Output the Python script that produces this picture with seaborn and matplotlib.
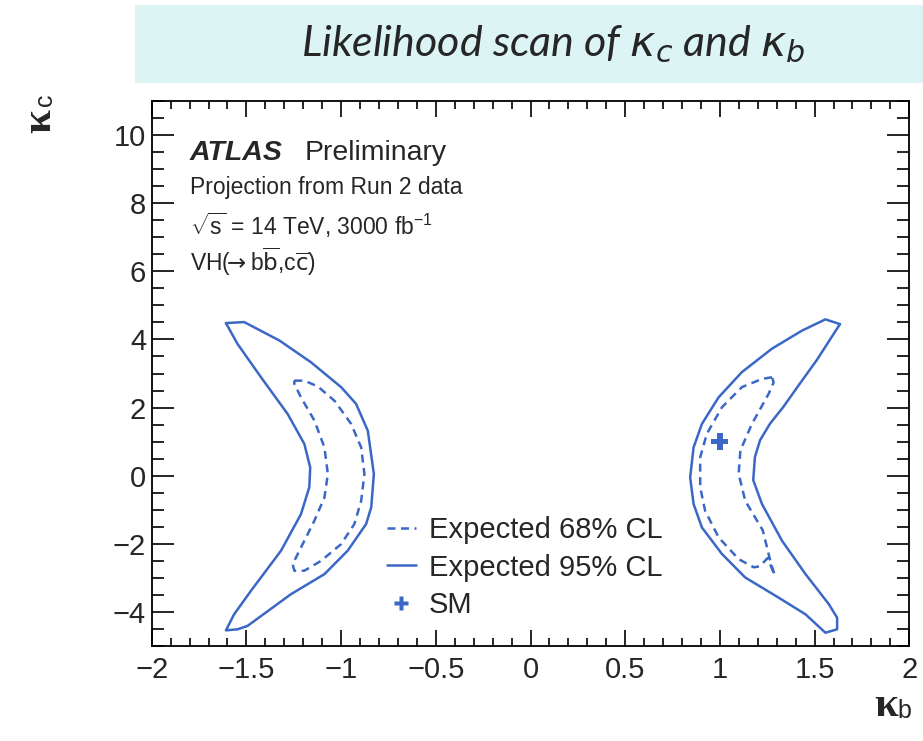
import numpy as np
import pandas as pd
import matplotlib
matplotlib.use("Agg")
import matplotlib.pyplot as plt
from matplotlib.lines import Line2D
from matplotlib.patches import Rectangle
from matplotlib.ticker import MultipleLocator
import seaborn as sns

# ---------------- data ----------------
left95_x = [-1.608, -1.512, -1.326, -1.159, -1.000, -0.921, -0.859, -0.827, -0.841, -0.868,
            -0.965, -1.088, -1.265, -1.494, -1.547, -1.608, -1.565, -1.476, -1.317, -1.212,
            -1.168, -1.163, -1.194, -1.282, -1.423, -1.547, -1.608]
left95_y = [4.48, 4.51, 3.97, 3.33, 2.60, 2.11, 1.32, 0.05, -0.93, -1.42,
            -2.20, -2.89, -3.48, -4.41, -4.51, -4.54, -4.07, -3.38, -2.20, -1.13,
            -0.34, 0.24, 0.93, 1.81, 2.89, 3.87, 4.48]

left68_x = [-1.247, -1.194, -1.123, -1.035, -0.947, -0.894, -0.877, -0.894, -0.930, -1.000,
            -1.106, -1.194, -1.247, -1.256, -1.212, -1.141, -1.088, -1.070, -1.088, -1.141,
            -1.212, -1.247, -1.247]
left68_y = [2.79, 2.79, 2.62, 2.20, 1.52, 0.83, 0.05, -0.74, -1.42, -2.01,
            -2.50, -2.79, -2.79, -2.60, -2.11, -1.32, -0.64, 0.05, 0.83, 1.62,
            2.30, 2.70, 2.79]

right95_x = [1.634, 1.557, 1.434, 1.275, 1.116, 0.993, 0.905, 0.861, 0.843, 0.861,
             0.905, 1.011, 1.134, 1.310, 1.452, 1.557, 1.619, 1.619, 1.575, 1.452,
             1.328, 1.222, 1.176, 1.185, 1.212, 1.265, 1.335, 1.423, 1.511, 1.634]
right95_y = [4.45, 4.59, 4.26, 3.73, 3.04, 2.30, 1.52, 0.83, -0.05, -0.83,
             -1.52, -2.30, -2.99, -3.58, -4.07, -4.61, -4.51, -4.17, -3.77, -2.89,
             -1.91, -0.83, -0.13, 0.55, 1.04, 1.53, 2.02, 2.71, 3.39, 4.45]

right68_x = [1.275, 1.222, 1.116, 1.011, 0.931, 0.896, 0.896, 0.922, 0.993, 1.099,
             1.179, 1.210, 1.252, 1.289, 1.268, 1.226, 1.134, 1.099, 1.108, 1.169,
             1.257, 1.284, 1.275]
right68_y = [2.89, 2.84, 2.60, 2.01, 1.23, 0.54, -0.34, -1.03, -1.81, -2.45,
             -2.69, -2.66, -2.42, -2.92, -2.54, -1.60, -0.74, 0.05, 0.74, 1.52,
             2.40, 2.74, 2.89]

sm_x = [1.0]
sm_y = [1.0]

x_ticks = [-2, -1.5, -1, -0.5, 0, 0.5, 1, 1.5, 2]
x_tick_labels = ["\u22122", "\u22121.5", "\u22121", "\u22120.5", "0", "0.5", "1", "1.5", "2"]
y_ticks = [-4, -2, 0, 2, 4, 6, 8, 10]
y_tick_labels = ["\u22124", "\u22122", "0", "2", "4", "6", "8", "10"]

legend_labels = ["Expected 68% CL", "Expected 95% CL", "SM"]

# ---------------- style ----------------
sns.set_theme(style="ticks")
plt.rcParams["font.family"] = ["Liberation Sans", "DejaVu Sans"]
plt.rcParams["mathtext.fontset"] = "custom"
plt.rcParams["mathtext.rm"] = "Liberation Sans"
plt.rcParams["mathtext.it"] = "Liberation Sans:italic"
plt.rcParams["mathtext.bf"] = "Liberation Sans:bold"
plt.rcParams["axes.linewidth"] = 1.3

BLUE = "#3b68c6"
DASH = (0, (3.2, 2.2))
LW = 1.8

W, H = 923, 741
fig = plt.figure(figsize=(W / 100, H / 100), dpi=100)
fig.patch.set_facecolor("white")

# title box
fig.patches.append(Rectangle((135 / W, 1 - 83 / H), 1 - 135 / W, 78 / H,
                             transform=fig.transFigure, facecolor="#dcf4f4",
                             edgecolor="none", zorder=0))
fig.text(553 / W, 1 - 44 / H, r"Likelihood scan of $\kappa_c$ and $\kappa_b$",
         ha="center", va="center", fontsize=31, style="italic",
         family=["Lato", "DejaVu Sans"], math_fontfamily="dejavusans")

ax = fig.add_axes([151.7 / W, 1 - 646 / H, (909.3 - 151.7) / W, (646 - 101) / H])

def draw(xs, ys, ls):
    df = pd.DataFrame({"x": xs, "y": ys})
    sns.lineplot(data=df, x="x", y="y", sort=False, estimator=None, ax=ax,
                 color=BLUE, linewidth=LW, linestyle=ls)

draw(left95_x, left95_y, "-")
draw(left68_x, left68_y, DASH)
draw(right95_x, right95_y, "-")
draw(right68_x, right68_y, DASH)
sns.scatterplot(x=sm_x, y=sm_y, ax=ax, marker="P", s=150, color=BLUE,
                edgecolor="none", zorder=5)

ax.set_xlim(-2, 2)
ax.set_ylim(-5, 11)
ax.set_xticks(x_ticks)
ax.set_xticklabels(x_tick_labels)
ax.set_yticks(y_ticks)
ax.set_yticklabels(y_tick_labels)
ax.xaxis.set_minor_locator(MultipleLocator(0.1))
ax.yaxis.set_minor_locator(MultipleLocator(0.5))
ax.set_xlabel("")
ax.set_ylabel("")
for s in ax.spines.values():
    s.set_visible(True)
    s.set_color("black")
ax.tick_params(axis="both", which="both", direction="in", top=True, right=True,
               color="black", width=1.2)
ax.tick_params(axis="y", which="major", length=15.6, labelsize=21, pad=4)
ax.tick_params(axis="y", which="minor", length=8.4)
ax.tick_params(axis="x", which="major", length=11.5, labelsize=21, pad=7)
ax.tick_params(axis="x", which="minor", length=5.8)

# axis labels (symbol-font kappa with sans subscripts)
fig.text(40 / W, 1 - 121 / H, "\u03ba", rotation=90, ha="center", va="center",
         fontsize=31, fontweight="bold", family=["Liberation Serif", "DejaVu Serif"])
fig.text(45 / W, 1 - 100 / H, "c", rotation=90, ha="center", va="center",
         fontsize=18)
fig.text(886 / W, 1 - 706 / H, "\u03ba", ha="center", va="center",
         fontsize=31, fontweight="bold", family=["Liberation Serif", "DejaVu Serif"])
fig.text(904 / W, 1 - 711 / H, "b", ha="center", va="center", fontsize=18)

# ATLAS labels
ax.text(0.0506, 0.9046, "ATLAS", transform=ax.transAxes, fontsize=20.5,
        fontweight="bold", style="italic", va="center", ha="left")
ax.text(0.2024, 0.9046, "Preliminary", transform=ax.transAxes, fontsize=20.5,
        va="center", ha="left")
ax.text(0.0506, 0.8404, "Projection from Run 2 data", transform=ax.transAxes,
        fontsize=16.5, va="center", ha="left")
ax.text(0.0506, 0.7725, r"$\sqrt{\mathrm{s}}$ = 14 TeV, 3000 fb$^{\mathrm{-1}}$",
        transform=ax.transAxes, fontsize=16.5, va="center", ha="left")
ax.text(0.0506, 0.7046,
        r"VH($\!\!\rightarrow$b$\overline{\mathrm{b}}$,c$\overline{\mathrm{c}}$)",
        transform=ax.transAxes, fontsize=16.5, va="center", ha="left",
        math_fontfamily="dejavusans")

# legend
handles = [Line2D([], [], color=BLUE, lw=LW, linestyle=DASH),
           Line2D([], [], color=BLUE, lw=LW),
           Line2D([], [], color=BLUE, marker="P", markersize=10, lw=0,
                  markeredgecolor="none")]
ax.legend(handles, legend_labels, loc="upper left", bbox_to_anchor=(0.31, 0.238),
          frameon=False, fontsize=21, handlelength=1.0, handletextpad=0.45,
          labelspacing=0.32, borderpad=0, borderaxespad=0)

fig.savefig("out.png", dpi=100)
